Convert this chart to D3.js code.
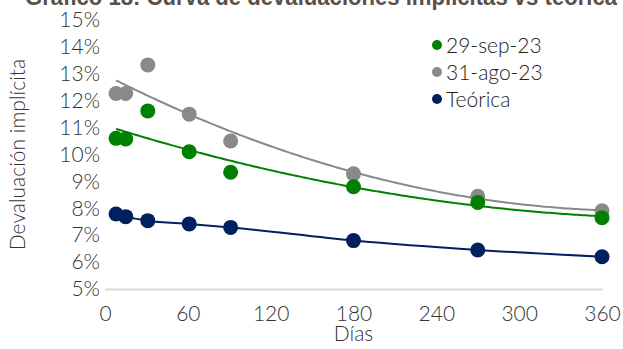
<!DOCTYPE html>
<html>
<head>
<meta charset="utf-8">
<script src="https://cdn.jsdelivr.net/npm/d3@7"></script>
<style>
  html, body { margin: 0; padding: 0; background: #fff; }
  svg { display: block; font-family: Lato, "Liberation Sans", sans-serif; }
</style>
</head>
<body>
<svg id="chart" width="623" height="349"></svg>
<script>
// Plazos (días) y devaluación implícita (%) por serie
const dias = [8, 15, 31, 61, 91, 180, 270, 360];
const sep23 = [10.6, 10.58, 11.62, 10.1, 9.34, 8.8, 8.22, 7.65];
const ago23 = [12.27, 12.27, 13.33, 11.5, 10.5, 9.28, 8.45, 7.91];
const teorica = [7.79, 7.69, 7.54, 7.42, 7.29, 6.8, 6.45, 6.2];

const xTicks = [0, 60, 120, 180, 240, 300, 360];
const yTicks = [5, 6, 7, 8, 9, 10, 11, 12, 13, 14, 15];

const series = [
  { name: "29-sep-23", values: sep23, color: "#008000", trend: true },
  { name: "31-ago-23", values: ago23, color: "#898989", trend: true },
  { name: "Teórica", values: teorica, color: "#002060", trend: false }
];

const FONT = "Lato, 'Liberation Sans', sans-serif";
const FS = 21;

const svg = d3.select("#chart");
const x = d3.scaleLinear().domain([0, 360]).range([105, 602]);
const y = d3.scaleLinear().domain([5, 15]).range([289, 20]);

// Título (recortado en el borde superior)
svg.append("text")
  .attr("x", 25).attr("y", 5)
  .attr("font-family", "'Liberation Sans', sans-serif")
  .attr("font-size", 23.5).attr("font-weight", 700)
  .attr("fill", "#5b4f47")
  .attr("textLength", 592).attr("lengthAdjust", "spacingAndGlyphs")
  .text("Gráfico 18: Curva de devaluaciones implícitas vs teórica");

// Eje X
const gx = svg.append("g").attr("transform", `translate(0,${y(5)})`)
  .call(d3.axisBottom(x).tickValues(xTicks).tickSize(0).tickPadding(17));
gx.select(".domain").attr("stroke", "#d9d9d9").attr("stroke-width", 2);
gx.selectAll("text").attr("font-size", FS).attr("font-weight", 300)
  .attr("fill", "#333").attr("font-family", FONT);

// Eje Y
const gy = svg.append("g").attr("transform", `translate(${x(0)},0)`)
  .call(d3.axisLeft(y).tickValues(yTicks).tickSize(0).tickPadding(5)
    .tickFormat(d => d + "%"));
gy.select(".domain").remove();
gy.selectAll("text").attr("font-size", FS).attr("font-weight", 300)
  .attr("fill", "#333").attr("font-family", FONT);

// Títulos de ejes
svg.append("text")
  .attr("x", (x(0) + x(360)) / 2).attr("y", 341)
  .attr("text-anchor", "middle").attr("font-size", FS).attr("font-weight", 300)
  .attr("font-family", FONT).attr("fill", "#333").text("Días");
svg.append("text")
  .attr("transform", `translate(25,${(y(5) + y(15)) / 2}) rotate(-90)`)
  .attr("text-anchor", "middle").attr("font-size", FS).attr("font-weight", 300)
  .attr("font-family", FONT).attr("fill", "#333").text("Devaluación implícita");

// Ajuste polinómico de orden 2 por mínimos cuadrados
function polyFit2(xs, ys) {
  const n = xs.length;
  let s = [0, 0, 0, 0, 0], t = [0, 0, 0];
  for (let i = 0; i < n; i++) {
    let p = 1;
    for (let k = 0; k < 5; k++) { s[k] += p; if (k < 3) t[k] += p * ys[i]; p *= xs[i]; }
  }
  const A = [[s[0], s[1], s[2], t[0]], [s[1], s[2], s[3], t[1]], [s[2], s[3], s[4], t[2]]];
  for (let i = 0; i < 3; i++) {
    for (let j = i + 1; j < 3; j++) {
      const f = A[j][i] / A[i][i];
      for (let k = i; k < 4; k++) A[j][k] -= f * A[i][k];
    }
  }
  const c = [0, 0, 0];
  for (let i = 2; i >= 0; i--) {
    let v = A[i][3];
    for (let k = i + 1; k < 3; k++) v -= A[i][k] * c[k];
    c[i] = v / A[i][i];
  }
  return xv => c[0] + c[1] * xv + c[2] * xv * xv;
}

const line = d3.line().x(d => x(d[0])).y(d => y(d[1]));

// Líneas: tendencia para las curvas observadas, trazo para la teórica
series.forEach(s => {
  let pts;
  if (s.trend) {
    const f = polyFit2(dias, s.values);
    pts = d3.range(dias[0], dias[dias.length - 1] + 0.5, 2).map(d => [d, f(d)]);
    line.curve(d3.curveLinear);
  } else {
    pts = dias.map((d, i) => [d, s.values[i]]);
    line.curve(d3.curveMonotoneX);
  }
  svg.append("path").datum(pts)
    .attr("fill", "none").attr("stroke", s.color).attr("stroke-width", 2)
    .attr("d", line);
});

// Puntos (gris debajo del verde, teórica al final)
[series[1], series[0], series[2]].forEach(s => {
  svg.append("g").selectAll("circle")
    .data(dias.map((d, i) => [d, s.values[i]]))
    .join("circle")
    .attr("cx", d => x(d[0])).attr("cy", d => y(d[1]))
    .attr("r", 7.5).attr("fill", s.color);
});

// Leyenda
const leg = svg.append("g");
series.forEach((s, i) => {
  const yy = 45 + i * 27;
  leg.append("circle").attr("cx", 437).attr("cy", yy).attr("r", 5).attr("fill", s.color);
  leg.append("text").attr("x", 446).attr("y", yy).attr("dy", "0.36em")
    .attr("font-size", FS).attr("font-weight", 300).attr("font-family", FONT)
    .attr("fill", "#222").text(s.name);
});
</script>
</body>
</html>
